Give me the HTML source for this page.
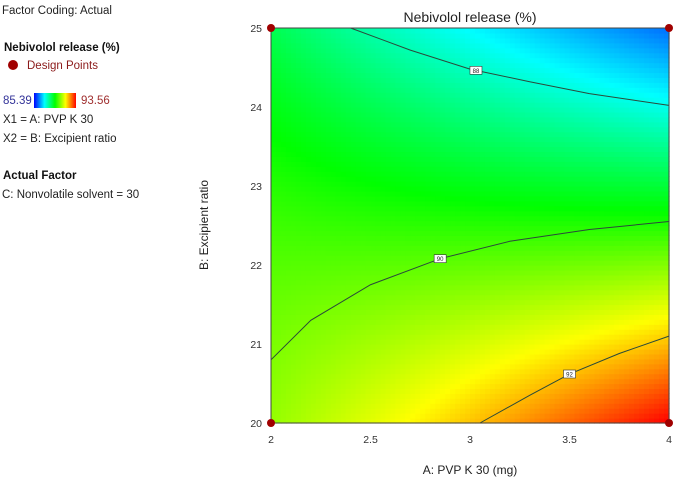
<!DOCTYPE html>
<html><head><meta charset="utf-8"><style>
body{margin:0;background:#fff;font-family:"Liberation Sans",sans-serif;}
</style></head><body>
<svg id="chart" width="682" height="483" xmlns="http://www.w3.org/2000/svg" style="font-family:'Liberation Sans',sans-serif">
<defs><linearGradient id="cbar" x1="0" x2="1"><stop offset="0" stop-color="#0000ff"/><stop offset="0.25" stop-color="#00ffff"/><stop offset="0.5" stop-color="#00ff00"/><stop offset="0.75" stop-color="#ffff00"/><stop offset="1" stop-color="#ff0000"/></linearGradient></defs>
<g font-size="11.5">
<text x="2" y="14" fill="#222">Factor Coding: Actual</text>
<text x="4" y="51" font-weight="bold" fill="#111">Nebivolol release (%)</text>
<circle cx="13" cy="65" r="5" fill="#a00000"/>
<text x="27" y="69" fill="#8b1a1a">Design Points</text>
<text x="3" y="104" fill="#333399">85.39</text>
<rect x="34" y="93" width="42" height="15" fill="url(#cbar)"/>
<text x="81" y="104" fill="#a03030">93.56</text>
<text x="3" y="123" fill="#222">X1 = A: PVP K 30</text>
<text x="3" y="142" fill="#222">X2 = B: Excipient ratio</text>
<text x="3" y="179" font-weight="bold" fill="#111">Actual Factor</text>
<text x="2" y="198" fill="#222">C: Nonvolatile solvent  = 30</text>
</g>
<g id="heat"></g>
<g id="contours"></g>
<rect x="271" y="28" width="398" height="395" fill="none" stroke="#444" stroke-width="1"/>
<g id="axes" font-size="10.5" fill="#333"></g>
<text x="470" y="22" text-anchor="middle" font-size="14" fill="#222">Nebivolol release (%)</text>
<text x="470" y="474" text-anchor="middle" font-size="12" fill="#222">A: PVP K 30 (mg)</text>
<text x="208" y="225" text-anchor="middle" font-size="12" fill="#222" transform="rotate(-90 208 225)">B: Excipient ratio</text>
</svg>
<script>
const xTicks=[2,2.5,3,3.5,4];
const yTicks=[20,21,22,23,24,25];
const coefB0=[89.8];
const coefLinear=[-0.11,-2.54];
const coefInteraction=[-1.54];
const coefQuad=[0.08,-0.28];
const colorRange=[85.39,93.56];
const contourLevels=[88,90,92];
const contour88=[[2.4,25],[2.7,24.72],[3.0,24.48],[3.3,24.32],[3.6,24.17],[4,24.02]];
const contour90=[[2,20.8],[2.2,21.3],[2.5,21.75],[2.85,22.08],[3.2,22.3],[3.6,22.45],[4,22.55]];
const contour92=[[3.05,20],[3.3,20.35],[3.5,20.62],[3.75,20.88],[4,21.1]];
const designPoints=[[2,20],[2,25],[4,20],[4,25]];
const NS='http://www.w3.org/2000/svg';
const X=a=>271+(a-2)/2*398, Y=b=>423-(b-20)/5*395;
function f(A,B){const a=A-3,b=(B-22.5)/2.5;return coefB0[0]+coefLinear[0]*a+coefLinear[1]*b+coefInteraction[0]*a*b+coefQuad[0]*a*a+coefQuad[1]*b*b;}
const stopsT=[0,0.2,0.5,0.76,1];
const stopsC=[[0,110,255],[0,255,255],[0,255,0],[255,255,0],[255,0,0]];
function col(v){let t=(v-colorRange[0])/(colorRange[1]-colorRange[0]);t=Math.max(0,Math.min(1,t));
let i=0;while(i<3&&t>stopsT[i+1])i++;const u=(t-stopsT[i])/(stopsT[i+1]-stopsT[i]);
const c=stopsC[i].map((x,k)=>Math.round(x+(stopsC[i+1][k]-x)*u));return `rgb(${c})`;}
function mk(tag,at,parent){const e=document.createElementNS(NS,tag);for(const k in at)e.setAttribute(k,at[k]);parent.appendChild(e);return e;}
const heat=document.getElementById('heat');const N=80;
for(let i=0;i<N;i++)for(let j=0;j<N;j++){const A=2+2*(i+0.5)/N,B=20+5*(j+0.5)/N;
const r=mk('rect',{x:X(2+2*i/N),y:Y(20+5*(j+1)/N),width:398/N+0.6,height:395/N+0.6,fill:col(f(A,B))},heat);

}
const cg=document.getElementById('contours');
[[contour88,88,0.42],[contour90,90,0.5],[contour92,92,0.5]].forEach(([pts,lv,fr])=>{
const p=mk('polyline',{points:pts.map(q=>X(q[0])+','+Y(q[1])).join(' '),fill:'none',stroke:'#2a4a3a','stroke-width':1},cg);


const k=Math.floor(fr*(pts.length-1)),u=fr*(pts.length-1)-k;const lx=X(pts[k][0]+(pts[k+1][0]-pts[k][0])*u),ly=Y(pts[k][1]+(pts[k+1][1]-pts[k][1])*u);
const bx=mk('rect',{x:lx-6,y:ly-4,width:12,height:8,fill:'#fff',stroke:'#333','stroke-width':0.6},cg);


const t=mk('text',{x:lx,y:ly+2.5,'font-size':6,'text-anchor':'middle',fill:'#222'},cg);t.textContent=lv;

});
const ax=document.getElementById('axes');
xTicks.forEach(v=>{const t=mk('text',{x:X(v),y:443,'text-anchor':'middle'},ax);t.textContent=v;

});
yTicks.forEach(v=>{const t=mk('text',{x:262,y:Y(v)+4,'text-anchor':'end'},ax);t.textContent=v;

});
designPoints.forEach(p=>{const c=mk('circle',{cx:X(p[0]),cy:Y(p[1]),r:4,fill:'#a00000'},ax);

});
</script>
</body></html>
